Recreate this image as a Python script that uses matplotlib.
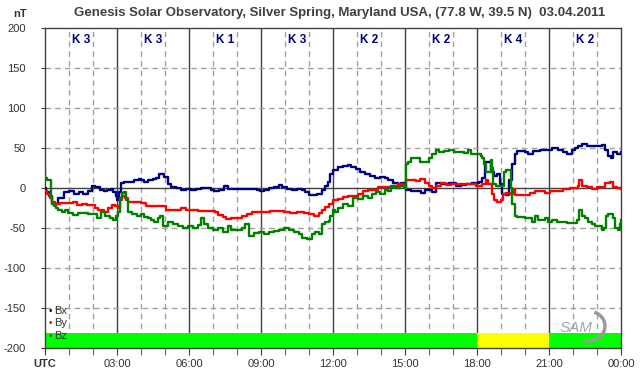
import matplotlib
matplotlib.use("Agg")
import matplotlib.pyplot as plt
import numpy as np
from matplotlib.patches import Arc

plt.rcParams['font.family'] = ['Liberation Sans', 'DejaVu Sans']

title = "Genesis Solar Observatory, Silver Spring, Maryland USA, (77.8 W, 39.5 N)  03.04.2011"

# Bx (navy)
bx_t = [0, 0.05, 0.15, 0.3, 0.45, 0.55, 0.65, 0.8, 1.0, 1.2, 1.4, 1.6, 1.8, 1.95, 2.1, 2.3, 2.45,
        2.6, 2.75, 2.85, 2.95, 3.0, 3.05, 3.1, 3.15, 3.3, 3.5, 3.7, 3.9,
        4.0, 4.14, 4.28, 4.49, 4.63, 4.76, 4.86, 4.97, 5.11, 5.25, 5.46, 5.67, 5.88, 6.08, 6.29,
        6.5, 6.71, 6.92, 7.06, 7.26, 7.47, 7.61, 7.82,
        8.0, 8.21, 8.42, 8.63, 8.83, 8.97, 9.11, 9.32, 9.53, 9.74, 9.88, 10.08, 10.29, 10.5, 10.71,
        10.85, 10.99, 11.12, 11.33, 11.54, 11.68, 11.78, 11.89,
        12.0, 12.21, 12.42, 12.63, 12.76, 12.97, 13.11, 13.32, 13.53, 13.74, 13.94, 14.15, 14.29,
        14.5, 14.71, 14.85, 14.99, 15.06, 15.26, 15.47, 15.68, 15.82,
        16.0, 16.14, 16.28, 16.56, 16.83, 17.11, 17.32, 17.53, 17.81, 18.08, 18.22, 18.33, 18.47,
        18.57, 18.71, 18.85, 18.94, 19.06, 19.19, 19.33, 19.44, 19.58, 19.68,
        20.0, 20.14, 20.35, 20.63, 20.9, 21.11, 21.39, 21.6, 21.74, 21.94, 22.08, 22.22, 22.36,
        22.57, 22.78, 22.99, 23.19, 23.33, 23.47, 23.58, 23.68, 23.82, 24.0]
bx_v = [0, -5, -10, -20, -20, -13, -12, -5, -4, -7, -5, -8, -4, 2, 1, -3, -4,
        -3, -1, -5, -10, -15, -13, -5, 6, 8, 8, 10, 11,
        10, 7, 10, 11, 13, 17, 18, 14, 5, 1, 0, -3, -1, -3, -1,
        0, 0, -2, -4, -2, 2, -1, -1,
        -1, -1, -1, -1, -2, -4, -2, 0, 1, 4, 1, -1, -2, -1, -3,
        -5, -9, -9, -7, -3, 3, 8, 18,
        22, 26, 27, 29, 26, 24, 20, 18, 15, 13, 14, 13, 10,
        6, 5, 6, 3, -3, -4, -4, -6, -3,
        -3, -5, 6, 5, 6, 2, 4, 5, 6, 8, 12, 32, 33,
        20, 15, 18, 5, -8, -9, 10, 30, 42, 46,
        45, 43, 46, 47, 48, 50, 48, 45, 43, 47, 50, 52, 55,
        53, 52, 53, 54, 48, 40, 38, 45, 43, 45]

# By (red)
by_t = [0, 0.07, 0.2, 0.3, 0.42, 0.62, 0.83, 1.04, 1.18, 1.32, 1.53, 1.74, 1.94, 2.08, 2.22,
        2.36, 2.47, 2.64, 2.78, 2.92, 3.03, 3.12, 3.22, 3.33, 3.47, 3.68,
        4.0, 4.21, 4.42, 4.69, 4.9, 5.04, 5.25, 5.46, 5.67, 5.88, 6.08, 6.36, 6.64, 6.92, 7.08,
        7.22, 7.4, 7.54, 7.75,
        8.0, 8.21, 8.42, 8.63, 8.83, 9.11, 9.39, 9.67, 9.94, 10.22, 10.5, 10.78, 10.99, 11.19,
        11.4, 11.54, 11.68, 11.82,
        12.0, 12.21, 12.42, 12.63, 12.83, 13.04, 13.25, 13.46, 13.67, 13.88, 14.08, 14.29, 14.5,
        14.71, 14.92, 15.06, 15.26, 15.47, 15.64, 15.82,
        16.0, 16.14, 16.28, 16.49, 16.69, 16.9, 17.11, 17.39, 17.67, 17.94, 18.08, 18.22, 18.36,
        18.47, 18.61, 18.71, 18.85, 18.99, 19.08, 19.22, 19.36, 19.5, 19.58, 19.68,
        20.0, 20.21, 20.42, 20.63, 20.83, 21.04, 21.32, 21.6, 21.88, 22.08, 22.19, 22.26, 22.36,
        22.57, 22.78, 22.99, 23.19, 23.33, 23.54, 23.68, 23.82, 24.0]
by_v = [-4, -8, -12, -18, -20, -19, -19, -19, -18, -21, -20, -21, -21, -25, -27,
        -28, -30, -25, -21, -22, -25, -15, -10, -13, -17, -18,
        -19, -22, -23, -22, -23, -27, -27, -27, -25, -28, -28, -29, -29, -29, -30,
        -34, -36, -39, -38,
        -37, -35, -33, -30, -30, -30, -29, -29, -30, -31, -30, -31, -33, -35,
        -31, -27, -24, -20,
        -15, -14, -11, -10, -10, -7, -4, -3, -2, 1, 1, 1, 3,
        5, 3, 10, 10, 9, 11, 6,
        3, 0, 3, 6, 4, 5, 5, 5, 5, 2, 3, 5, 10,
        5, -8, -15, -17, -15, -7, -6, -8, -1, -9, -9,
        -9, -6, -4, -4, -6, -4, -4, -1, 0, 0, 3, 10, 2,
        1, -1, 1, 1, 6, 7, 1, 0, -1]

# Bz (green)
bz_t = [0, 0.02, 0.07, 0.17, 0.25, 0.3, 0.39, 0.44, 0.56, 0.69, 0.83, 0.97, 1.18, 1.39, 1.6,
        1.81, 2.01, 2.15, 2.33, 2.5, 2.71, 2.85, 2.94, 3.03, 3.12, 3.22, 3.31, 3.38, 3.44,
        3.64, 3.82,
        4.0, 4.14, 4.28, 4.42, 4.56, 4.69, 4.81, 4.9, 5.11, 5.32, 5.53, 5.74, 5.94, 6.15, 6.36,
        6.5, 6.64, 6.78, 6.99, 7.19, 7.4, 7.61, 7.75,
        8.0, 8.21, 8.35, 8.49, 8.69, 8.9, 9.11, 9.32, 9.53, 9.74, 9.94, 10.15, 10.36, 10.57,
        10.71, 10.92, 11.12, 11.26, 11.4, 11.54, 11.68, 11.82, 11.89,
        12.0, 12.1, 12.21, 12.42, 12.63, 12.83, 13.04, 13.25, 13.46, 13.64, 13.78, 13.94, 14.15,
        14.29, 14.43, 14.57, 14.78, 14.96, 15.03, 15.12, 15.26, 15.43, 15.61, 15.82,
        16.0, 16.14, 16.28, 16.42, 16.63, 16.83, 17.04, 17.25, 17.46, 17.64, 17.74, 17.94, 18.15,
        18.22, 18.29, 18.36, 18.43, 18.5, 18.57, 18.61, 18.67, 18.78, 18.92, 19.06, 19.13,
        19.22, 19.33, 19.4, 19.47, 19.58, 19.68, 19.82,
        20.0, 20.14, 20.28, 20.42, 20.56, 20.69, 20.83, 20.97, 21.11, 21.32, 21.53, 21.74, 22.01,
        22.15, 22.25, 22.36, 22.5, 22.64, 22.78, 22.92, 23.06, 23.19, 23.31, 23.38, 23.47, 23.58,
        23.68, 23.75, 23.89, 23.96, 24.0]
bz_v = [25, 12, 10, 10, -10, -20, -22, -25, -28, -30, -28, -31, -34, -31, -31,
        -32, -33, -38, -30, -35, -38, -40, -35, -30, -12, -6, -5, -15, -30,
        -32, -35,
        -33, -36, -38, -40, -43, -38, -35, -48, -43, -45, -47, -50, -48, -50, -46,
        -38, -45, -50, -52, -50, -55, -47, -52,
        -53, -50, -45, -60, -56, -55, -57, -55, -54, -52, -50, -52, -55, -57,
        -62, -64, -58, -55, -58, -45, -42, -41, -35,
        -28, -30, -25, -20, -22, -13, -14, -10, -12, -7, -5, -7, -2,
        -4, 2, 0, 2, 0, 30, 33, 38, 38, 33, 32,
        37, 42, 48, 45, 46, 47, 45, 45, 44, 48, 42, 42, 40,
        38, 30, 20, 20, 20, 35, 25, 5, 2, 2, 2, 20,
        22, 22, 0, -20, -35, -36, -36,
        -37, -38, -42, -35, -40, -40, -38, -42, -40, -42, -43, -44, -44,
        -40, -28, -35, -38, -42, -45, -47, -48, -52, -50, -35, -32, -33,
        -38, -50, -52, -45, -40]

k_values = ["K 3", "K 3", "K 1", "K 3", "K 2", "K 2", "K 4", "K 2"]
k_colors = ["#00ff00", "#00ff00", "#00ff00", "#00ff00", "#00ff00", "#00ff00", "#ffff00", "#00ff00"]
x_labels = ["UTC", "03:00", "06:00", "09:00", "12:00", "15:00", "18:00", "21:00", "00:00"]
y_ticks = [200, 150, 100, 50, 0, -50, -100, -150, -200]

W, H = 642, 376
fig = plt.figure(figsize=(W / 100, H / 100), dpi=100)
ax = fig.add_axes([45 / W, (H - 348) / H, 576 / W, 320 / H])
ax.set_xlim(0, 24)
ax.set_ylim(-200, 200)

grid_c = "#a0a0a0"
dark = "#404040"
for h in range(1, 24):
    if h % 3 == 0:
        ax.axvline(h, color=dark, lw=1.0, zorder=1)
    else:
        ax.axvline(h, color=grid_c, lw=1.0, ls=(0, (4, 3)), zorder=1)
for y in y_ticks[1:-1]:
    if y == 0:
        ax.axhline(0, color=dark, lw=1.0, zorder=1)
    else:
        ax.axhline(y, color=grid_c, lw=1.0, ls=(0, (4, 3)), zorder=1)

# K-index bar
for i, (k, c) in enumerate(zip(k_values, k_colors)):
    ax.fill_between([3 * i, 3 * i + 3], -200, -181, color=c, lw=0, zorder=2)
    ax.text(3 * i + 1.5, 193, k, ha="center", va="top", fontsize=8.5, fontweight="bold",
            color="#000080", zorder=5)

lw = 1.7
ax.plot(bx_t, bx_v, color="#000080", lw=lw, zorder=4, drawstyle="steps-post")
ax.plot(by_t, by_v, color="#ff0000", lw=lw, zorder=4, drawstyle="steps-post")
ax.plot(bz_t, bz_v, color="#008000", lw=lw, zorder=4, drawstyle="steps-post")

for sp in ax.spines.values():
    sp.set_color(dark)
    sp.set_linewidth(1.0)

ax.set_yticks(y_ticks)
ax.set_yticklabels([str(v) for v in y_ticks])
ax.tick_params(axis="y", length=3, pad=11, labelsize=8, colors=dark, labelcolor="#333333")
ax.set_xticks(range(0, 25, 3))
ax.set_xticklabels(x_labels)
ax.set_xticks(range(0, 25), minor=True)
ax.tick_params(axis="x", which="both", length=5, pad=3, labelsize=8, colors=dark,
               labelcolor="#333333", direction="out")
ax.get_xticklabels()[0].set_fontweight("bold")

fig.text(340 / W, 1 - 13 / H, title, ha="center", va="center", fontsize=9.5,
         fontweight="bold", color="#404040")
fig.text(20 / W, 1 - 14 / H, "nT", ha="center", va="center", fontsize=8,
         fontweight="bold", color="#333333")

# legend
for i, (name, c) in enumerate([("Bx", "#000080"), ("By", "#ff0000"), ("Bz", "#008000")]):
    yy = 1 - (311 + i * 12.5) / H
    fig.text(50 / W, yy, "•", color=c, fontsize=7, ha="center", va="center")
    fig.text(54 / W, yy, name, color="#333333", fontsize=8, ha="left", va="center")

# SAM logo (approximation)
fig.text(576 / W, 1 - 328 / H, "SAM", color="#8a8f9c", fontsize=11, style="italic",
         ha="center", va="center", alpha=0.8)
arc = Arc((588 / W, 1 - 326 / H), 34 / W, 30 / H, transform=fig.transFigure,
          theta1=-100, theta2=75, color="#9a9a9a", lw=2.5)
fig.add_artist(arc)

fig.savefig("out.png", dpi=100, facecolor="white")
